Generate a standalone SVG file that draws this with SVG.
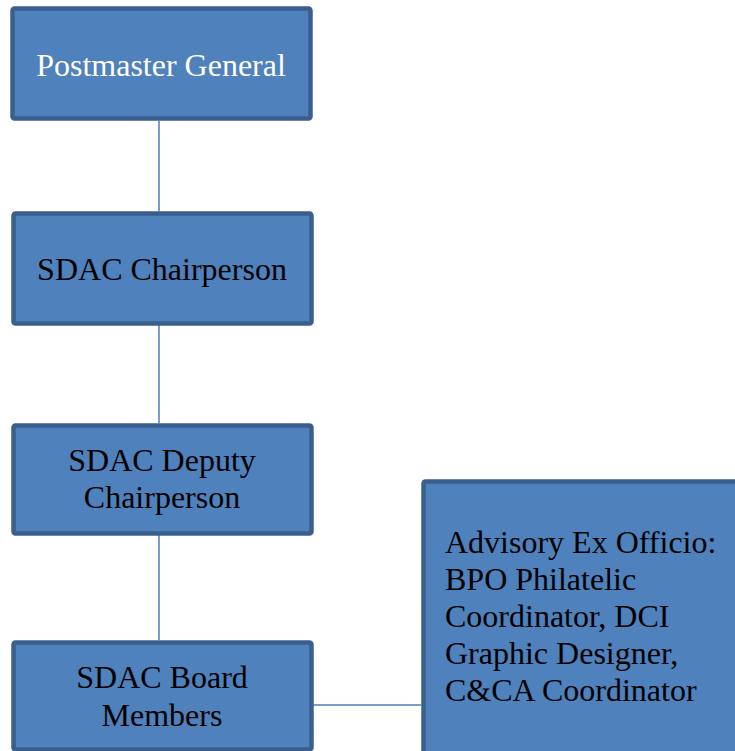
<svg xmlns="http://www.w3.org/2000/svg" width="735" height="751" viewBox="0 0 735 751">
<style>
.box{fill:#4f81bd;stroke:#3a5f8c;stroke-width:4.5}
.t{font-family:"Liberation Serif","Times New Roman",serif;font-size:32px;fill:#000}
.w{fill:#fff}
.c{text-anchor:middle}
.conn line{stroke:#4a7ebb;stroke-width:1.5}
</style>
<rect width="735" height="751" fill="#fff"/>
<g id="connectors" class="conn">
<line x1="159" y1="121" x2="159" y2="211"/>
<line x1="159" y1="325" x2="159" y2="423"/>
<line x1="159" y1="535" x2="159" y2="640"/>
<line x1="313" y1="705" x2="421" y2="705"/>
</g>
<g id="postmaster">
<rect class="box" x="12.5" y="8.5" width="298" height="110" rx="2"/>
<text class="t w c" x="161" y="76">Postmaster General</text>
</g>
<g id="chairperson">
<rect class="box" x="13.5" y="213.5" width="298" height="110" rx="2"/>
<text class="t c" x="162" y="280">SDAC Chairperson</text>
</g>
<g id="deputy">
<rect class="box" x="13.5" y="425.5" width="298" height="108" rx="2"/>
<text class="t c" x="162" y="471">SDAC Deputy</text>
<text class="t c" x="162" y="508">Chairperson</text>
</g>
<g id="board">
<rect class="box" x="13.5" y="642.5" width="298" height="107" rx="2"/>
<text class="t c" x="162" y="688">SDAC Board</text>
<text class="t c" x="162" y="725.5">Members</text>
</g>
<g id="advisory">
<rect class="box" x="423.5" y="481.5" width="330" height="290" rx="2"/>
<text class="t" x="445" y="553">Advisory Ex Officio:</text>
<text class="t" x="445" y="590">BPO Philatelic</text>
<text class="t" x="445" y="627">Coordinator, DCI</text>
<text class="t" x="445" y="664">Graphic Designer,</text>
<text class="t" x="445" y="701">C&amp;CA Coordinator</text>
</g>
</svg>
